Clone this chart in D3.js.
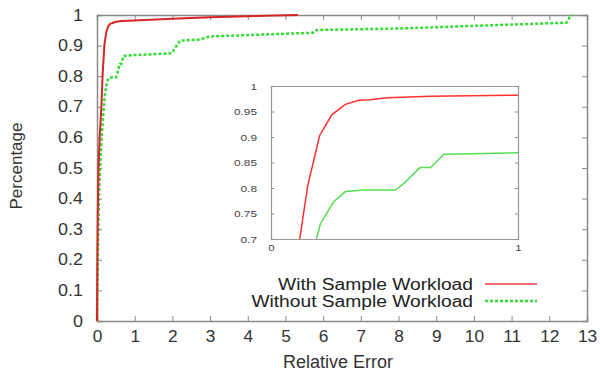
<!DOCTYPE html>
<html>
<head>
<meta charset="utf-8">
<script src="https://cdn.jsdelivr.net/npm/d3@7"></script>
<style>
  body { margin: 0; background: #fff; }
  text { font-family: "Liberation Sans", Arial, sans-serif; }
</style>
</head>
<body>
<div id="chart"></div>
<script>
// CDF of relative error
const withSample = [
  [0, 0], [0.01, 0.2], [0.02, 0.35], [0.04, 0.5], [0.07, 0.6], [0.116, 0.7],
  [0.149, 0.805], [0.197, 0.903], [0.247, 0.944], [0.301, 0.964],
  [0.355, 0.972], [0.403, 0.973], [0.47, 0.977], [0.646, 0.98], [1, 0.982],
  [2, 0.988], [3, 0.993], [4, 0.996], [5.33, 1]
];
const withoutSample = [
  [0, 0], [0.02, 0.2], [0.05, 0.4], [0.1, 0.55], [0.15, 0.65], [0.184, 0.7],
  [0.2, 0.73], [0.254, 0.773], [0.301, 0.793], [0.376, 0.796], [0.504, 0.796],
  [0.538, 0.809], [0.603, 0.84], [0.646, 0.84], [0.7, 0.866], [1, 0.869],
  [1.98, 0.875], [2.2, 0.916], [2.73, 0.92], [3.0, 0.93], [5.73, 0.942],
  [5.83, 0.951], [8.04, 0.956], [12.46, 0.975], [12.55, 0.995], [12.6, 1]
];
const xTicks = [0, 1, 2, 3, 4, 5, 6, 7, 8, 9, 10, 11, 12, 13];
const yTicks = [0, 0.1, 0.2, 0.3, 0.4, 0.5, 0.6, 0.7, 0.8, 0.9, 1];
const insetXTicks = [0, 1];
const insetYTicks = [0.7, 0.75, 0.8, 0.85, 0.9, 0.95, 1];
const legendLabels = ["With Sample Workload", "Without Sample Workload"];

const W = 600, H = 372;
const margin = {top: 15, right: 13, bottom: 51, left: 97};
const width = W - margin.left - margin.right;
const height = H - margin.top - margin.bottom;

const svg = d3.select("#chart").append("svg")
    .attr("width", W).attr("height", H);

const g = svg.append("g")
    .attr("transform", `translate(${margin.left},${margin.top})`);

const x = d3.scaleLinear().domain([0, 13]).range([0, width]);
const y = d3.scaleLinear().domain([0, 1]).range([height, 0]);

// the scanned text is a bit wider than Arial, so widen glyphs
function stretch(sel, k) {
    sel.each(function() {
        const w = this.getComputedTextLength();
        d3.select(this).attr("textLength", w * k).attr("lengthAdjust", "spacingAndGlyphs");
    });
}

function styleAxis(sel, size, k, col) {
    sel.selectAll(".domain").attr("stroke", "#8a8a8a").attr("stroke-width", 1.5);
    sel.selectAll(".tick line").attr("stroke", "#8a8a8a");
    sel.selectAll(".tick text").attr("fill", col || "#333").style("font-size", size + "px")
        .call(stretch, k);
}

g.append("g").attr("transform", `translate(0,${height})`)
    .call(d3.axisBottom(x).tickValues(xTicks).tickSize(-5).tickPadding(10).tickFormat(d3.format("d")))
    .call(s => styleAxis(s, 16, 1.08));
g.append("g")
    .call(d3.axisTop(x).tickValues(xTicks).tickSize(-5).tickFormat(""))
    .call(s => styleAxis(s, 16, 1));
g.append("g")
    .call(d3.axisLeft(y).tickValues(yTicks).tickSize(-5).tickPadding(14).tickFormat(d => String(+d.toFixed(1))))
    .call(s => styleAxis(s, 16, 1.12));
g.append("g").attr("transform", `translate(${width},0)`)
    .call(d3.axisRight(y).tickValues(yTicks).tickSize(-5).tickFormat(""))
    .call(s => styleAxis(s, 16, 1));

const line = d3.line().x(d => x(d[0])).y(d => y(d[1]));

g.append("path").datum(withoutSample)
    .attr("fill", "none").attr("stroke", "#33dd33").attr("stroke-width", 2.5)
    .attr("stroke-dasharray", "3,2").attr("d", line);
g.append("path").datum(withSample)
    .attr("fill", "none").attr("stroke", "#d82424").attr("stroke-width", 2)
    .attr("d", line);

// axis titles
svg.append("text").attr("x", 338).attr("y", 368)
    .attr("text-anchor", "middle").attr("fill", "#333").style("font-size", "18px")
    .text("Relative Error");
svg.append("text").attr("transform", "translate(22,166) rotate(-90)")
    .attr("text-anchor", "middle").attr("fill", "#333").style("font-size", "17px")
    .text("Percentage");

// legend
const legendColors = ["#e84040", "#33dd33"];
legendLabels.forEach((lab, i) => {
    const ly = 284 + i * 17;
    svg.append("text").attr("x", 473).attr("y", ly + 6)
        .attr("text-anchor", "end").attr("fill", "#222").style("font-size", "16px")
        .text(lab).call(stretch, 1.2);
    svg.append("line").attr("x1", 485).attr("x2", 537).attr("y1", ly).attr("y2", ly)
        .attr("stroke", legendColors[i]).attr("stroke-width", i ? 2.5 : 1.5)
        .attr("stroke-dasharray", i ? "3,2" : null);
});

// inset
const inset = {left: 271, top: 86, width: 247, height: 153};
const ig = svg.append("g").attr("transform", `translate(${inset.left},${inset.top})`);
ig.append("rect").attr("width", inset.width).attr("height", inset.height).attr("fill", "#fff");

const ix = d3.scaleLinear().domain([0, 1]).range([0, inset.width]);
const iy = d3.scaleLinear().domain([0.7, 1]).range([inset.height, 0]);

ig.append("clipPath").attr("id", "insetClip")
    .append("rect").attr("width", inset.width).attr("height", inset.height);

ig.append("g").attr("transform", `translate(0,${inset.height})`)
    .call(d3.axisBottom(ix).tickValues(insetXTicks).tickSize(-3).tickPadding(5).tickFormat(d3.format("d")))
    .call(s => styleAxis(s, 9.5, 1.2, "#444"));
ig.append("g")
    .call(d3.axisTop(ix).tickValues(insetXTicks).tickSize(-3).tickFormat(""))
    .call(s => styleAxis(s, 9.5, 1));
ig.append("g")
    .call(d3.axisLeft(iy).tickValues(insetYTicks).tickSize(-3).tickPadding(14).tickFormat(d => String(+d.toFixed(2))))
    .call(s => styleAxis(s, 9.5, 1.25, "#444"));
ig.append("g").attr("transform", `translate(${inset.width},0)`)
    .call(d3.axisRight(iy).tickValues(insetYTicks).tickSize(-3).tickFormat(""))
    .call(s => styleAxis(s, 9.5, 1));
ig.selectAll(".domain").attr("stroke-width", 1.2).attr("stroke", "#999");

const iline = d3.line().x(d => ix(d[0])).y(d => iy(d[1]));
const clipped = ig.append("g").attr("clip-path", "url(#insetClip)");
clipped.append("path").datum(withoutSample)
    .attr("fill", "none").attr("stroke", "#55dd55").attr("stroke-width", 1.5).attr("d", iline);
clipped.append("path").datum(withSample)
    .attr("fill", "none").attr("stroke", "#ff3030").attr("stroke-width", 1.5).attr("d", iline);
</script>
</body>
</html>
